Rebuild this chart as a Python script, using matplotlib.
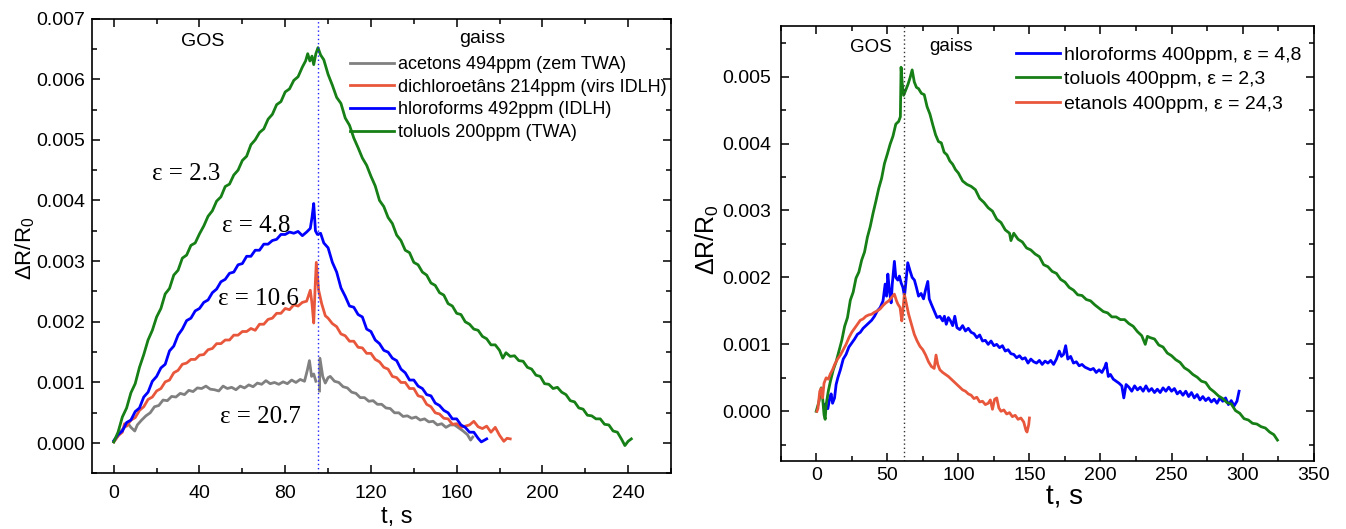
import numpy as np
import matplotlib
matplotlib.use("Agg")
import matplotlib.pyplot as plt
from matplotlib.ticker import MultipleLocator, FormatStrFormatter

plt.rcParams['font.family'] = ['Liberation Sans', 'DejaVu Sans']
plt.rcParams['mathtext.fontset'] = 'custom'
plt.rcParams['mathtext.rm'] = 'Liberation Sans'

# ---- left panel: (t [s], dR/R0 in units of 1e-3) ----
ace494 = [(0, 0.02), (2, 0.12), (3.6, 0.21), (5, 0.26), (6.7, 0.32), (8, 0.26), (9.8, 0.20), (11, 0.30),
          (13, 0.38), (15, 0.45), (17, 0.50), (19, 0.60), (21, 0.62), (23, 0.71), (25, 0.70), (27, 0.77),
          (29, 0.76), (31, 0.82), (33, 0.80), (35, 0.87), (37, 0.85), (39, 0.91), (41, 0.90), (43, 0.94),
          (45, 0.89), (47, 0.88), (49, 0.86), (51, 0.94), (53, 0.90), (55, 0.92), (57, 0.88), (59, 0.94),
          (61, 0.91), (63, 0.96), (65, 0.93), (67, 0.99), (69, 0.97), (71, 1.03), (73, 0.98), (75, 1.00),
          (77, 0.97), (79, 1.01), (81, 0.98), (83, 1.04), (85, 1.00), (87, 1.05), (89, 1.02),
          (90.3, 1.20), (91.3, 1.36), (92.3, 1.10), (93.3, 1.14), (94.3, 1.02), (95, np.nan),
          (96, 0.86), (96.2, 1.40), (97.5, 1.10), (98.7, 0.99), (100, 1.08), (101, 1.10),
          (103, 1.02), (105, 1.00), (107, 0.93), (109, 0.91), (111, 0.84), (113, 0.82), (115, 0.75),
          (117, 0.75), (119, 0.69), (121, 0.70), (123, 0.64), (125, 0.64), (127, 0.58), (129, 0.57),
          (131, 0.50), (133, 0.50), (135, 0.44), (137, 0.45), (139, 0.41), (141, 0.43), (143, 0.38),
          (145, 0.40), (147, 0.35), (149, 0.36), (151, 0.30), (153, 0.32), (155, 0.26), (157, 0.30),
          (159, 0.30), (161, 0.25), (163, 0.20), (165, 0.14), (166.5, 0.05), (167.5, 0.10)]

dce214 = [(0, 0.02), (2, 0.12), (4, 0.18), (5, 0.32), (6, 0.28), (8, 0.38), (10, 0.42), (12, 0.54),
          (14, 0.60), (16, 0.72), (18, 0.76), (20, 0.86), (22, 0.90), (24, 1.01), (26, 1.04), (28, 1.16),
          (30, 1.20), (32, 1.30), (34, 1.32), (36, 1.38), (38, 1.38), (40, 1.45), (42, 1.46), (44, 1.54),
          (46, 1.56), (48, 1.64), (50, 1.64), (52, 1.70), (54, 1.70), (56, 1.78), (58, 1.78), (60, 1.84),
          (62, 1.84), (64, 1.89), (66, 1.86), (68, 1.96), (70, 1.96), (72, 2.04), (74, 2.06), (76, 2.14),
          (78, 2.14), (80, 2.22), (82, 2.20), (84, 2.28), (86, 2.26), (88, 2.32), (90, 2.34),
          (91.7, 2.52), (92.5, 2.30), (93.3, 1.98), (94, 2.60), (94.5, 2.98), (95.6, 2.52), (97, 2.30),
          (98.7, 2.10), (100, 2.06), (102, 1.97), (104, 1.92), (106, 1.80), (108, 1.77), (110, 1.68),
          (112, 1.68), (114, 1.58), (116, 1.57), (118, 1.48), (120, 1.48), (122, 1.38), (124, 1.34),
          (126, 1.25), (128, 1.22), (130, 1.10), (132, 1.08), (134, 1.00), (136, 1.00), (138, 0.90),
          (140, 0.90), (142, 0.78), (144, 0.76), (146, 0.64), (148, 0.60), (150, 0.50), (152, 0.48),
          (154, 0.41), (156, 0.40), (158, 0.31), (160, 0.32), (162, 0.26), (164, 0.28), (166, 0.30),
          (168, 0.36), (170, 0.27), (172, 0.24), (174, 0.28), (176, 0.18), (178, 0.26), (180, 0.13),
          (182, 0.03), (183.5, 0.08), (185, 0.07)]

chl492 = [(0, 0.04), (2, 0.14), (4, 0.20), (6, 0.34), (8, 0.38), (10, 0.52), (12, 0.58), (14, 0.76),
          (16, 0.84), (18, 1.02), (20, 1.10), (22, 1.24), (24, 1.30), (26, 1.52), (28, 1.60), (30, 1.78),
          (32, 1.88), (34, 2.02), (36, 2.06), (38, 2.18), (40, 2.22), (42, 2.32), (44, 2.36), (46, 2.48),
          (48, 2.54), (50, 2.66), (52, 2.70), (54, 2.80), (56, 2.82), (58, 2.94), (60, 2.96), (62, 3.08),
          (64, 3.08), (66, 3.18), (68, 3.18), (70, 3.28), (72, 3.28), (74, 3.34), (76, 3.36), (78, 3.44),
          (80, 3.44), (82, 3.48), (84, 3.46), (86, 3.49), (88, 3.42), (90, 3.48),
          (91.7, 3.54), (92.5, 3.72), (93.3, 3.95), (94.1, 3.50), (95, 3.44), (96.5, 3.46), (98, 3.30),
          (100, 3.22), (102, 2.98), (104, 2.82), (106, 2.56), (108, 2.42), (110, 2.26), (112, 2.24),
          (114, 2.12), (116, 2.08), (118, 1.88), (120, 1.84), (122, 1.70), (124, 1.64), (126, 1.53),
          (128, 1.50), (130, 1.40), (132, 1.36), (134, 1.22), (136, 1.16), (138, 1.04), (140, 1.04),
          (142, 0.94), (144, 0.90), (146, 0.80), (148, 0.78), (150, 0.66), (152, 0.62), (154, 0.54),
          (156, 0.50), (158, 0.40), (160, 0.40), (162, 0.30), (164, 0.26), (166, 0.18), (168, 0.18),
          (170, 0.08), (171.5, 0.02), (173, 0.05), (174, 0.07)]

tol200 = [(0, 0.02), (2, 0.18), (4, 0.43), (6, 0.58), (8, 0.83), (10, 0.98), (12, 1.25), (14, 1.46),
          (16, 1.70), (18, 1.86), (20, 2.08), (22, 2.22), (24, 2.46), (26, 2.55), (28, 2.77), (30, 2.85),
          (32, 3.05), (34, 3.10), (36, 3.26), (38, 3.30), (40, 3.45), (42, 3.58), (44, 3.74), (46, 3.83),
          (48, 3.99), (50, 4.06), (52, 4.23), (54, 4.27), (56, 4.42), (58, 4.50), (60, 4.66), (62, 4.73),
          (64, 4.92), (66, 5.00), (68, 5.12), (70, 5.18), (72, 5.34), (74, 5.42), (76, 5.58), (78, 5.63),
          (80, 5.79), (82, 5.84), (84, 5.98), (86, 6.04), (88, 6.20),
          (89.5, 6.30), (90.5, 6.42), (91.5, 6.30), (92.5, 6.38), (93.3, 6.24), (94.3, 6.42), (95.3, 6.52),
          (96.5, 6.40), (98, 6.32), (100, 6.08), (102, 5.90), (104, 5.70), (106, 5.60), (108, 5.36),
          (110, 5.24), (112, 5.03), (114, 4.87), (116, 4.70), (118, 4.58), (120, 4.40), (122, 4.24),
          (124, 4.00), (126, 3.90), (128, 3.72), (130, 3.62), (132, 3.43), (134, 3.34), (136, 3.18),
          (138, 3.14), (140, 2.98), (142, 2.94), (144, 2.82), (146, 2.77), (148, 2.64), (150, 2.60),
          (152, 2.48), (154, 2.44), (156, 2.30), (158, 2.26), (160, 2.14), (162, 2.12), (164, 2.00),
          (166, 1.96), (168, 1.88), (170, 1.86), (172, 1.76), (174, 1.72), (176, 1.62), (178, 1.62),
          (180, 1.53), (181.5, 1.40), (183, 1.49), (185, 1.43), (187, 1.44), (189, 1.36), (191, 1.35),
          (193, 1.25), (195, 1.22), (197, 1.12), (199, 1.10), (201, 0.98), (203, 0.97), (205, 0.90),
          (207, 0.92), (209, 0.84), (211, 0.80), (213, 0.70), (215, 0.68), (217, 0.58), (219, 0.56),
          (221, 0.46), (223, 0.45), (225, 0.40), (227, 0.40), (229, 0.31), (231, 0.30), (233, 0.20),
          (235, 0.18), (237, 0.06), (238.5, -0.04), (240, 0.03), (241.5, 0.07)]

left_labels = ['acetons 494ppm (zem TWA)', 'dichloroetâns 214ppm (virs IDLH)',
               'hloroforms 492ppm (IDLH)', 'toluols 200ppm (TWA)']
left_eps = [('ε = 2.3', 17.8, 4.43), ('ε = 4.8', 50.5, 3.58),
            ('ε = 10.6', 48.6, 2.38), ('ε = 20.7', 49.5, 0.43)]
left_switch = 95.2

# ---- right panel ----
chl400 = [(5.5, 0.10), (7, 0.04), (8.2, 0.04), (9.5, 0.20), (10.5, 0.26), (11.5, 0.12), (12.9, 0.20),
          (14, 0.40), (15.2, 0.50), (17, 0.62), (19, 0.78), (21, 0.85), (23, 0.96), (25, 1.02), (27, 1.08),
          (29, 1.15), (31, 1.18), (33, 1.24), (35, 1.28), (37, 1.32), (39, 1.36), (41, 1.42), (43, 1.50),
          (45, 1.55), (47, 1.65), (48.5, 1.90), (49.5, 1.72), (50.4, 2.05), (51.5, 1.80), (52.7, 1.62),
          (53.5, 1.90), (55, 2.24), (56, 2.00), (57.4, 1.96), (58.5, 2.02), (59.7, 1.92), (61, 1.85),
          (62.1, 1.72), (63.2, 1.95), (64.4, 2.22), (66, 2.10), (67.5, 2.00), (69.1, 1.96), (70.5, 1.85),
          (72, 1.72), (73.8, 1.76), (75.5, 1.68), (77, 1.82), (78.5, 1.94), (79.5, 1.68), (81, 1.60),
          (83, 1.50), (85, 1.40), (87, 1.42), (89, 1.35), (90.2, 1.42), (91.5, 1.30), (93, 1.40),
          (94.5, 1.35), (96, 1.28), (97.5, 1.42), (99, 1.25), (101, 1.22), (103, 1.28), (105, 1.20),
          (107, 1.24), (109, 1.18), (111, 1.16), (113, 1.10), (115, 1.14), (117, 1.05), (119, 1.06),
          (121, 1.00), (123, 1.05), (125, 0.98), (127, 1.00), (129, 0.95), (131, 0.98), (133, 0.90),
          (135, 0.92), (137, 0.86), (139, 0.85), (141, 0.80), (143, 0.83), (145, 0.78), (147, 0.80),
          (149, 0.72), (151, 0.78), (153, 0.74), (155, 0.72), (157, 0.76), (159, 0.70), (161, 0.75),
          (163, 0.72), (165, 0.76), (167, 0.70), (169, 0.78), (171, 0.90), (172.5, 0.82), (174, 0.85),
          (175.5, 0.98), (177, 0.78), (179, 0.82), (181, 0.72), (183, 0.74), (185, 0.68), (187, 0.70),
          (189, 0.66), (191, 0.64), (193, 0.62), (195, 0.64), (197, 0.58), (199, 0.62), (201, 0.58),
          (203, 0.66), (204, 0.72), (205.5, 0.52), (207, 0.55), (209, 0.48), (211, 0.45), (213, 0.42),
          (215, 0.38), (216.4, 0.20), (218, 0.40), (220, 0.36), (222, 0.30), (224, 0.38), (226, 0.32),
          (228, 0.36), (230, 0.30), (232, 0.38), (234, 0.30), (236, 0.34), (238, 0.28), (240, 0.33),
          (242, 0.28), (244, 0.35), (246, 0.30), (248, 0.36), (250, 0.30), (252, 0.34), (254, 0.26),
          (256, 0.30), (258, 0.24), (260, 0.30), (262, 0.22), (264, 0.28), (266, 0.20), (268, 0.25),
          (270, 0.17), (272, 0.22), (274, 0.16), (276, 0.20), (278, 0.14), (280, 0.18), (282, 0.12),
          (284, 0.20), (286, 0.15), (288, 0.20), (290, 0.10), (292, 0.16), (294, 0.08), (296, 0.15),
          (297.5, 0.30)]

tol400 = [(0, 0.00), (2, 0.15), (3.5, 0.35), (4.5, 0.20), (5.5, -0.05), (6.3, -0.12), (7, 0.10),
          (8.5, 0.30), (10, 0.45), (12, 0.62), (14, 0.74), (16, 0.90), (18, 1.06), (20, 1.27), (22, 1.40),
          (24, 1.66), (26, 1.78), (28, 1.99), (30, 2.08), (32, 2.26), (34, 2.38), (36, 2.60), (38, 2.76),
          (40, 2.96), (42, 3.14), (44, 3.33), (46, 3.48), (48, 3.70), (50, 3.84), (52, 3.99), (54, 4.11),
          (56, 4.29), (58, 4.33), (59.2, 4.40), (59.7, 5.14), (60.5, 4.90), (61.5, 4.72), (63, 4.80),
          (64.5, 4.88), (66, 4.98), (67.5, 5.10), (69, 4.92), (70.5, 4.84), (72, 4.82), (74, 4.75),
          (76, 4.73), (78, 4.55), (80, 4.44), (82, 4.28), (84, 4.13), (86, 4.03), (88, 4.01), (90, 3.87),
          (92, 3.83), (94, 3.74), (96, 3.69), (98, 3.61), (100, 3.56), (103, 3.44), (106, 3.39),
          (109, 3.36), (112, 3.31), (115, 3.18), (118, 3.12), (121, 3.04), (124, 2.99), (127, 2.87),
          (130, 2.82), (133, 2.71), (136, 2.66), (137, 2.55), (139, 2.66), (142, 2.57), (145, 2.53),
          (148, 2.44), (151, 2.41), (154, 2.35), (157, 2.31), (160, 2.19), (163, 2.16), (166, 2.09),
          (169, 2.06), (172, 1.97), (175, 1.93), (178, 1.85), (181, 1.81), (184, 1.74), (187, 1.73),
          (190, 1.67), (193, 1.65), (196, 1.59), (199, 1.54), (202, 1.49), (205, 1.47), (208, 1.41),
          (211, 1.41), (214, 1.37), (217, 1.37), (220, 1.31), (223, 1.27), (226, 1.19), (229, 1.13),
          (231.5, 1.00), (233, 1.12), (235, 1.10), (238, 1.08), (241, 0.99), (244, 0.96), (247, 0.87),
          (250, 0.83), (253, 0.77), (256, 0.73), (259, 0.65), (262, 0.61), (265, 0.55), (268, 0.51),
          (271, 0.45), (274, 0.43), (277, 0.34), (280, 0.29), (283, 0.23), (286, 0.19), (289, 0.13),
          (292, 0.11), (295, 0.01), (298, -0.03), (301, -0.11), (304, -0.13), (307, -0.18), (310, -0.19),
          (313, -0.23), (316, -0.25), (319, -0.31), (322, -0.35), (324.5, -0.43)]

eth400 = [(0.5, 0.00), (1.2, 0.04), (2.5, 0.30), (3.5, 0.34), (4.5, 0.20), (5.5, 0.42), (7, 0.50),
          (8.5, 0.48), (10, 0.56), (11.5, 0.62), (13, 0.70), (15, 0.78), (17, 0.84), (19, 0.92), (21, 1.00),
          (23, 1.10), (25, 1.18), (27, 1.24), (29, 1.30), (31, 1.36), (33, 1.38), (35, 1.42), (37, 1.44),
          (39, 1.45), (41, 1.48), (43, 1.50), (45, 1.53), (47, 1.58), (49, 1.62), (51, 1.65), (53, 1.70),
          (55, 1.75), (56.5, 1.65), (57.5, 1.60), (59, 1.55), (60.2, 1.35), (61, 1.50), (62, 1.75),
          (63.5, 1.60), (65, 1.45), (67, 1.30), (69, 1.15), (71, 1.05), (73, 0.97), (75, 0.92), (77, 0.84),
          (79, 0.74), (81, 0.67), (83, 0.64), (84.3, 0.84), (85.5, 0.70), (87, 0.62), (89, 0.58),
          (91, 0.55), (93, 0.52), (95, 0.48), (97, 0.44), (99, 0.40), (101, 0.36), (103, 0.32),
          (105, 0.30), (107, 0.26), (109, 0.24), (111, 0.19), (113, 0.21), (115, 0.14), (117, 0.15),
          (119, 0.10), (121, 0.12), (122.5, 0.17), (124, 0.03), (125.5, 0.18), (127, 0.20), (128.5, 0.05),
          (130, 0.00), (132, 0.02), (134, -0.04), (136, -0.02), (138, -0.08), (140, -0.06), (142, -0.12),
          (144, -0.10), (146, -0.16), (147.5, -0.28), (148.3, -0.31), (149.5, -0.20), (150, -0.10)]

right_labels = ['hloroforms 400ppm, ε = 4,8', 'toluols 400ppm, ε = 2,3', 'etanols 400ppm, ε = 24,3']
right_switch = 61.5

GRAY, RED, BLUE, GREEN = '#808080', '#e8573c', '#0000ff', '#167f16'


def xy(series):
    t, v = zip(*series)
    return np.array(t), np.array(v) * 1e-3


def style(ax):
    for s in ax.spines.values():
        s.set_linewidth(1.2)
    ax.tick_params(which='both', direction='in', top=True, right=True, width=1.1)
    ax.tick_params(which='major', length=6, labelsize=14)
    ax.tick_params(which='minor', length=3.5)
    ax.yaxis.set_major_formatter(FormatStrFormatter('%.3f'))


fig = plt.figure(figsize=(13.46, 5.29), dpi=100)

# left
axL = fig.add_axes([0.0686, 0.105, 0.4299, 0.860])
for data, c, lab in zip([ace494, dce214, chl492, tol200], [GRAY, RED, BLUE, GREEN], left_labels):
    t, v = xy(data)
    axL.plot(t, v, color=c, lw=2.0, label=lab)
axL.axvline(left_switch, color='#2020ff', lw=1.0, ls=(0, (1, 2)))
axL.set_xlim(-10, 260)
axL.set_ylim(-0.0005, 0.007)
axL.xaxis.set_major_locator(MultipleLocator(40))
axL.xaxis.set_minor_locator(MultipleLocator(20))
axL.yaxis.set_major_locator(MultipleLocator(0.001))
axL.yaxis.set_minor_locator(MultipleLocator(0.0005))
style(axL)
axL.tick_params(axis='x', pad=8)
axL.tick_params(axis='y', pad=5)
for txt, tx, ty in left_eps:
    axL.text(tx, ty * 1e-3, txt, family='Liberation Serif', fontsize=18, ha='left', va='center')
axL.text(41.6, 0.00662, 'GOS', fontsize=14, ha='center', va='center')
axL.text(171.8, 0.00667, 'gaiss', fontsize=14, ha='center', va='center')
axL.legend(loc='upper left', bbox_to_anchor=(0.446, 0.918), frameon=False, fontsize=13,
           handlelength=2.4, handletextpad=0.25, labelspacing=0.32, borderpad=0, borderaxespad=0)
fig.text(397 / 1346, 1 - 517 / 529, 't, s', fontsize=17, ha='center', va='center')
fig.text(25 / 1346, 1 - 248 / 529, r'ΔR/R$_\mathregular{0}$', fontsize=16, rotation=90,
         ha='center', va='center')

# right
axR = fig.add_axes([0.580, 0.1276, 0.396, 0.8225])
for data, c, lab in zip([chl400, tol400, eth400], [BLUE, GREEN, RED], right_labels):
    t, v = xy(data)
    axR.plot(t, v, color=c, lw=2.0, label=lab)
axR.axvline(right_switch, color='#333333', lw=1.0, ls=(0, (1, 2)))
axR.set_xlim(-25, 350)
axR.set_ylim(-0.00075, 0.00575)
axR.xaxis.set_major_locator(MultipleLocator(50))
axR.xaxis.set_minor_locator(MultipleLocator(25))
axR.yaxis.set_major_locator(MultipleLocator(0.001))
axR.yaxis.set_minor_locator(MultipleLocator(0.0005))
style(axR)
axR.tick_params(axis='x', pad=4)
axR.tick_params(axis='y', pad=7)
axR.text(38.2, 0.00543, 'GOS', fontsize=13.5, ha='center', va='center')
axR.text(94.9, 0.00545, 'gaiss', fontsize=13.5, ha='center', va='center')
axR.legend(loc='upper left', bbox_to_anchor=(0.441, 0.955), frameon=False, fontsize=14,
           handlelength=2.3, handletextpad=0.2, labelspacing=0.36, borderpad=0, borderaxespad=0)
fig.text(1064 / 1346, 1 - 498 / 529, 't, s', fontsize=20, ha='center', va='center')
fig.text(707 / 1346, 1 - 240 / 529, r'ΔR/R$_\mathregular{0}$', fontsize=18, rotation=90,
         ha='center', va='center')

fig.savefig('out.png', dpi=100)
